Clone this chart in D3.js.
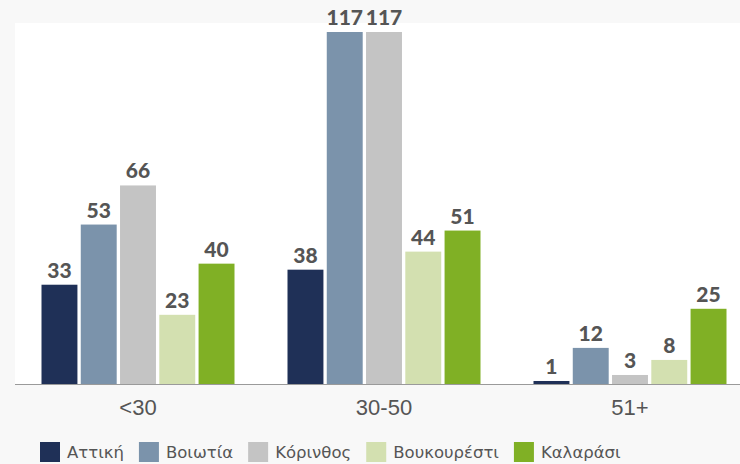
<!DOCTYPE html>
<html>
<head>
<meta charset="utf-8">
<script src="https://cdn.jsdelivr.net/npm/d3@7"></script>
<style>
  body { margin: 0; background: #f8f8f8; }
  svg { display: block; }
</style>
</head>
<body>
<svg id="chart"></svg>
<script>
const groups = ["<30", "30-50", "51+"];
const regions = ["Αττική", "Βοιωτία", "Κόρινθος", "Βουκουρέστι", "Καλαράσι"];
const colors = ["#1f3057", "#7b93ab", "#c4c4c4", "#d3e0b0", "#80b025"];
const attiki = [33, 38, 1];
const voiotia = [53, 117, 12];
const korinthos = [66, 117, 3];
const voukouresti = [23, 44, 8];
const kalarasi = [40, 51, 25];

const series = [attiki, voiotia, korinthos, voukouresti, kalarasi];

const width = 740, height = 464;
const svg = d3.select("#chart").attr("width", width).attr("height", height);

const plotLeft = 15, plotTop = 23, baseY = 384;

// white plot area
svg.append("rect")
    .attr("x", plotLeft).attr("y", plotTop)
    .attr("width", width - plotLeft).attr("height", baseY - plotTop)
    .attr("fill", "#fff");

const x0 = d3.scaleBand().domain(groups).range([plotLeft, 753]);
const x1 = d3.scaleBand().domain(regions)
    .range([26.5, x0.bandwidth() - 26.5])
    .paddingInner(0.085);
const y = d3.scaleLinear().domain([0, 117]).range([baseY, 32]);

const g = svg.append("g");

groups.forEach((grp, gi) => {
    const gg = g.append("g").attr("transform", `translate(${x0(grp)},0)`);
    const rows = regions.map((r, i) => ({region: r, value: series[i][gi], color: colors[i]}));

    gg.selectAll("rect")
        .data(rows).enter()
        .append("rect")
        .attr("x", d => x1(d.region))
        .attr("y", d => y(d.value))
        .attr("width", x1.bandwidth())
        .attr("height", d => baseY - y(d.value))
        .attr("fill", d => d.color);

    gg.selectAll("text")
        .data(rows).enter()
        .append("text")
        .attr("x", d => x1(d.region) + x1.bandwidth() / 2)
        .attr("y", d => y(d.value) - 7)
        .attr("text-anchor", "middle")
        .style("font", "900 21px Lato, 'DejaVu Sans', sans-serif")
        .attr("fill", "#555")
        .text(d => d.value);
});

// baseline
svg.append("line")
    .attr("x1", plotLeft).attr("x2", width)
    .attr("y1", baseY + 0.5).attr("y2", baseY + 0.5)
    .attr("stroke", "#9a9a9a").attr("stroke-width", 1);

// category labels
svg.append("g").selectAll("text")
    .data(groups).enter()
    .append("text")
    .attr("x", d => x0(d) + x0.bandwidth() / 2)
    .attr("y", 415)
    .attr("text-anchor", "middle")
    .style("font", "22px 'Liberation Sans', Arial, sans-serif")
    .attr("fill", "#555")
    .text(d => d);

// legend
const legend = svg.append("g").attr("transform", "translate(40,442)");
let lx = 0;
regions.forEach((r, i) => {
    const item = legend.append("g").attr("transform", `translate(${lx},0)`);
    item.append("rect").attr("width", 20).attr("height", 20).attr("fill", colors[i]);
    const t = item.append("text")
        .attr("x", 27).attr("y", 16)
        .style("font", "16.5px 'DejaVu Sans', sans-serif")
        .attr("fill", "#555")
        .text(r);
    lx += 27 + t.node().getComputedTextLength() + 15;
});
</script>
</body>
</html>
